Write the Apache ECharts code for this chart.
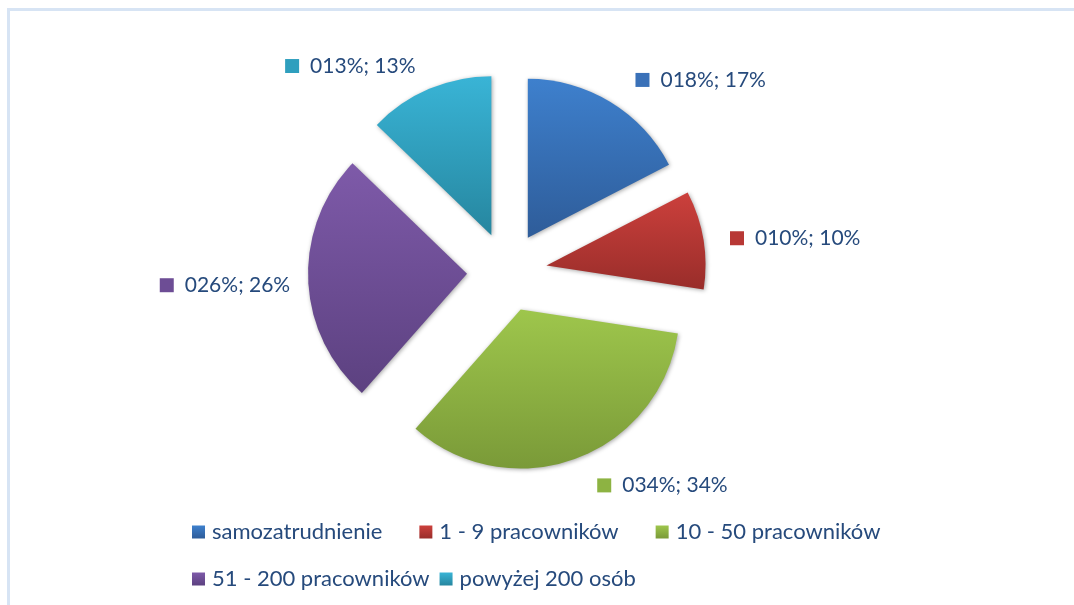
<!DOCTYPE html>
<html>
<head>
<meta charset="utf-8">
<script src="https://cdn.jsdelivr.net/npm/echarts@6/dist/echarts.min.js"></script>
<style>
html,body{margin:0;padding:0;background:#fff;overflow:hidden;}
#frame{position:absolute;left:7px;top:8px;width:1080px;height:610px;border-left:3px solid #d7e4f4;border-top:3px solid #d7e4f4;}
#main{position:absolute;left:0;top:0;width:1074px;height:605px;}
</style>
</head>
<body>
<div id="frame"></div>
<div id="main"></div>
<script>
// dane
var categories = ['samozatrudnienie', '1 - 9 pracowników', '10 - 50 pracowników', '51 - 200 pracowników', 'powyżej 200 osób'];
var labelNames = ['018%', '010%', '034%', '026%', '013%'];
var shares = [17.4, 10.0, 34.1, 25.7, 12.8];

var topColors = ['#3e80cd', '#cc403c', '#9ec64c', '#7e5aa9', '#39b4d6'];
var bottomColors = ['#2e5c99', '#992d2a', '#7a9a38', '#5c4180', '#26869f'];
var keyColors = ['#3a71b8', '#b83835', '#8db342', '#6d4d95', '#2f9fbe'];

// przesunięcie etykiet jak w Excelu
var labelNudgeX = [-4, -15, -2, 24, 12];
var labelNudgeY = [1, 3, 1, 4, 2];

var textColor = '#264a7c';
var font = 'Lato';

var chart = echarts.init(document.getElementById('main'), null, {renderer: 'canvas'});

var pieData = categories.map(function (name, i) {
  return {
    name: name,
    value: shares[i],
    selected: true,
    itemStyle: {
      color: new echarts.graphic.LinearGradient(0, 0, 0, 1, [
        {offset: 0, color: topColors[i]},
        {offset: 1, color: bottomColors[i]}
      ])
    },
    label: {
      rich: {
        m: {width: 14, height: 14, backgroundColor: keyColors[i]},
        t: {color: textColor, fontFamily: font, fontSize: 21, padding: [0, 0, 0, 11]}
      }
    }
  };
});

var legendBase = {
  left: 192,
  padding: 0,
  icon: 'rect',
  itemWidth: 13,
  itemHeight: 13,
  textStyle: {color: textColor, fontFamily: font, fontSize: 22, padding: [0, 0, 0, 2]}
};

chart.setOption({
  animation: false,
  color: keyColors,
  legend: [
    Object.assign({}, legendBase, {top: 521, itemGap: 37, data: categories.slice(0, 3)}),
    Object.assign({}, legendBase, {top: 568, itemGap: 10, data: categories.slice(3)})
  ],
  series: [{
    type: 'pie',
    center: [507, 272],
    radius: 159,
    startAngle: 90,
    clockwise: true,
    selectedMode: 'multiple',
    selectedOffset: 40,
    emphasis: {scale: false},
    itemStyle: {
      shadowBlur: 4,
      shadowColor: 'rgba(0,0,0,0.35)',
      shadowOffsetX: 1,
      shadowOffsetY: 1
    },
    label: {
      show: true,
      position: 'outside',
      formatter: function (p) {
        return '{m|}{t|' + labelNames[p.dataIndex] + '; ' + Math.round(p.percent) + '%}';
      }
    },
    labelLine: {show: false, length: 27, length2: 10},
    labelLayout: function (params) {
      return {
        dx: labelNudgeX[params.dataIndex],
        dy: labelNudgeY[params.dataIndex]
      };
    },
    data: pieData
  }]
});
</script>
</body>
</html>
